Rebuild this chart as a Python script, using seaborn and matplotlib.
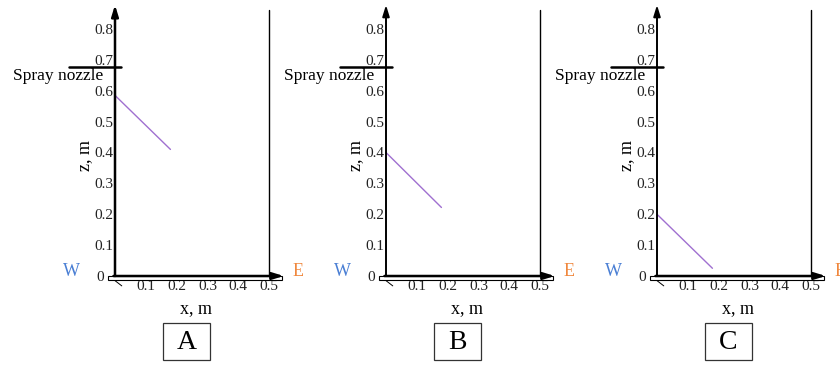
import numpy as np
import pandas as pd
import matplotlib
matplotlib.use("Agg")
import matplotlib.pyplot as plt
from matplotlib.patches import Rectangle
import matplotlib.transforms as mtransforms
import seaborn as sns

# ---- data ----
panels = ["A", "B", "C"]
spray_x = [0.0, 0.18]
spray_z_A = [0.585, 0.41]
spray_z_B = [0.40, 0.222]
spray_z_C = [0.20, 0.025]
nozzle_z = 0.676
wall_x = 0.5
x_ticks = [0.1, 0.2, 0.3, 0.4, 0.5]
x_tick_labels = ["0.1", "0.2", "0.3", "0.4", "0.5"]
z_ticks = [0, 0.1, 0.2, 0.3, 0.4, 0.5, 0.6, 0.7, 0.8]
z_tick_labels = ["0", "0.1", "0.2", "0.3", "0.4", "0.5", "0.6", "0.7", "0.8"]
spray_z = {"A": spray_z_A, "B": spray_z_B, "C": spray_z_C}

sns.set_theme(style="white")
plt.rcParams["font.family"] = ["Liberation Serif", "DejaVu Serif"]

W, H = 840, 373
fig = plt.figure(figsize=(8.4, 3.73), dpi=100)
fig.patch.set_facecolor("white")

px_per_x = 308.0
px_per_z = 308.75
x0_px = [115, 386, 657]
y0_px = 276
xmax, zmax = 0.545, 0.875

for i, p in enumerate(panels):
    left = x0_px[i] / W
    bottom = (H - y0_px) / H
    width = xmax * px_per_x / W
    height = zmax * px_per_z / H
    ax = fig.add_axes([left, bottom, width, height])
    ax.set_facecolor("none")
    ax.set_xlim(0, xmax)
    ax.set_ylim(0, zmax)
    for s in ax.spines.values():
        s.set_visible(False)

    # floor strip under x axis
    ax.add_patch(Rectangle((-0.023, -0.013), 0.565, 0.013, facecolor="white",
                           edgecolor="black", lw=0.8, clip_on=False, zorder=3))
    # axes with arrows
    ax.annotate("", xy=(0, 0.878), xytext=(0, 0), xycoords="data",
                arrowprops=dict(arrowstyle="-|>,head_length=0.55,head_width=0.17",
                                lw=1.8 if p == "A" else 1.4, color="black",
                                shrinkA=0, shrinkB=0), annotation_clip=False, zorder=5)
    ax.annotate("", xy=(0.548, 0), xytext=(-0.005, 0), xycoords="data",
                arrowprops=dict(arrowstyle="-|>,head_length=0.55,head_width=0.17",
                                lw=1.8, color="black", shrinkA=0, shrinkB=0),
                annotation_clip=False, zorder=5)
    # small diagonal at origin
    ax.plot([0.0, 0.022], [-0.015, -0.032], color="black", lw=0.7, clip_on=False)

    # wall
    ax.plot([wall_x, wall_x], [0, 0.862], color="black", lw=1.0, clip_on=False, zorder=4)
    # nozzle
    ax.plot([-0.15, 0.02], [nozzle_z, nozzle_z], color="black", lw=1.8, clip_on=False, zorder=4)
    ax.text(-0.038, 0.648, "Spray nozzle", ha="right", va="center", fontsize=12.5,
            color="black", zorder=6)

    # spray line
    df = pd.DataFrame({"x": spray_x, "z": spray_z[p]})
    sns.lineplot(data=df, x="x", y="z", ax=ax, color="#a070d0", lw=1.0, sort=False)

    ax.set_xticks(x_ticks)
    ax.set_xticklabels(x_tick_labels)
    ax.set_yticks(z_ticks)
    ax.set_yticklabels(z_tick_labels)
    ax.tick_params(axis="x", direction="in", length=8, width=1.2, pad=3,
                   labelsize=11, colors="black")
    ax.tick_params(axis="y", direction="in", length=7, width=1.2, pad=1,
                   labelsize=11, colors="black")
    ax.tick_params(axis="x", labelcolor="#222222")
    ax.tick_params(axis="y", labelcolor="#222222")
    # the "0" label sits left of the floor strip
    zero_lbl = ax.get_yticklabels()[0]
    zero_lbl.set_transform(zero_lbl.get_transform() +
                           mtransforms.ScaledTranslation(-10 / 100, 0, fig.dpi_scale_trans))

    ax.set_xlabel("x, m", fontsize=13, color="black")
    ax.set_ylabel("z, m", fontsize=13, color="black")
    ax.xaxis.set_label_coords(0.263 / xmax, -33 / (zmax * px_per_z))
    ax.yaxis.set_label_coords(-30 / (xmax * px_per_x), 0.39 / zmax)
    ax.xaxis.label.set_va("center")
    ax.yaxis.label.set_va("center")

    # W / E markers
    ax.text(-0.14, 0.016, "W", color="#4a7fd4", fontsize=13, ha="center", va="center",
            clip_on=False)
    ax.text(0.594, 0.016, "E", color="#f0883e", fontsize=13, ha="center", va="center",
            clip_on=False)

    # panel letter box
    ax.add_patch(Rectangle((0.156, -0.272), 0.152, 0.12, facecolor="white",
                           edgecolor="#333333", lw=0.9, clip_on=False))
    ax.text(0.232, -0.214, p, fontsize=20, ha="center", va="center", color="black")

fig.savefig("out.png", dpi=100, facecolor="white")
